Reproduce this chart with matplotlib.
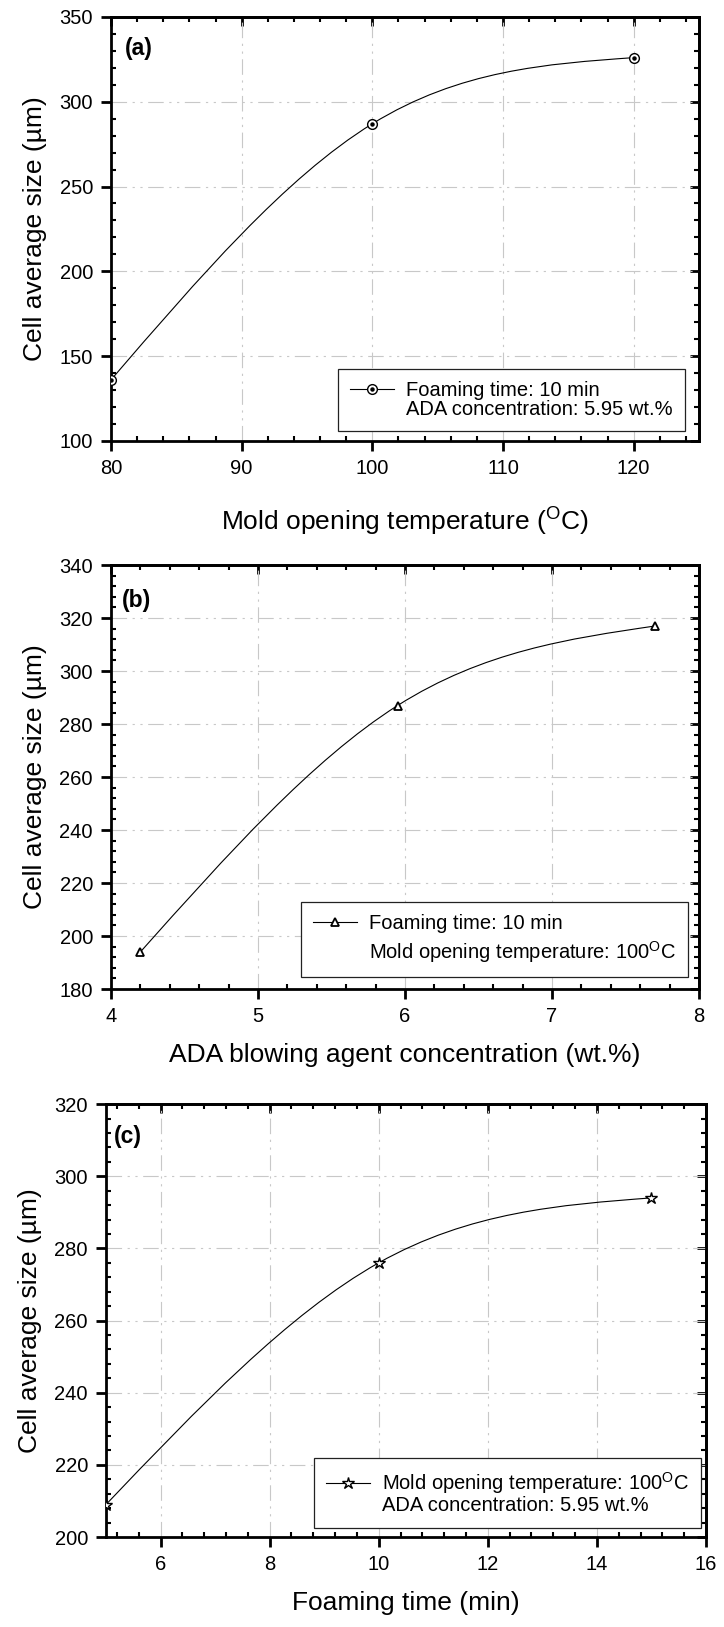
import numpy as np
import matplotlib
matplotlib.use('Agg')
import matplotlib.pyplot as plt
from matplotlib.path import Path
from matplotlib.patches import PathPatch
from matplotlib.lines import Line2D
from matplotlib.legend_handler import HandlerTuple
from matplotlib.ticker import MultipleLocator

plt.rcParams['font.family'] = ['Liberation Sans', 'DejaVu Sans']
plt.rcParams['mathtext.fontset'] = 'custom'
plt.rcParams['mathtext.rm'] = 'Liberation Sans'
plt.rcParams['mathtext.it'] = 'Liberation Sans:italic'
plt.rcParams['mathtext.bf'] = 'Liberation Sans:bold'

# (a) mold opening temperature
temp_c = [80, 100, 120]
size_a = [136, 287, 326]
# (b) ADA concentration
ada_wt = [4.2, 5.95, 7.7]
size_b = [194, 287, 317]
# (c) foaming time
time_min = [5, 10, 15]
size_c = [209, 276, 294]

DEG = r'$^{\mathrm{O}}$C'
YLABEL = 'Cell average size (µm)'
GRID_DASH = (0, (14, 5, 2, 5, 2, 5))


def spline_path(x, y):
    """Natural cubic spline through the points, as bezier segments."""
    x = np.asarray(x, float)
    y = np.asarray(y, float)
    n = len(x)
    h = np.diff(x)
    A = np.zeros((n, n))
    r = np.zeros(n)
    A[0, 0] = A[-1, -1] = 1
    for i in range(1, n - 1):
        A[i, i - 1] = h[i - 1]
        A[i, i] = 2 * (h[i - 1] + h[i])
        A[i, i + 1] = h[i]
        r[i] = 6 * ((y[i + 1] - y[i]) / h[i] - (y[i] - y[i - 1]) / h[i - 1])
    M = np.linalg.solve(A, r)
    verts = [(x[0], y[0])]
    codes = [Path.MOVETO]
    for i in range(n - 1):
        s = (y[i + 1] - y[i]) / h[i]
        d0 = s - h[i] * (2 * M[i] + M[i + 1]) / 6
        d1 = s + h[i] * (M[i] + 2 * M[i + 1]) / 6
        verts += [(x[i] + h[i] / 3, y[i] + h[i] * d0 / 3),
                  (x[i + 1] - h[i] / 3, y[i + 1] - h[i] * d1 / 3),
                  (x[i + 1], y[i + 1])]
        codes += [Path.CURVE4] * 3
    return Path(verts, codes)


def style_axes(ax, xlim, ylim, xmaj, xmin, ymaj, ymin):
    ax.set_xlim(*xlim)
    ax.set_ylim(*ylim)
    ax.xaxis.set_major_locator(MultipleLocator(xmaj))
    ax.xaxis.set_minor_locator(MultipleLocator(xmin))
    ax.yaxis.set_major_locator(MultipleLocator(ymaj))
    ax.yaxis.set_minor_locator(MultipleLocator(ymin))
    for sp in ax.spines.values():
        sp.set_linewidth(2.0)
    ax.tick_params(which='major', direction='out', length=7, width=2,
                   labelsize=14.5, pad=6)
    ax.tick_params(which='minor', direction='in', length=3.5, width=1.5)
    ax.grid(which='major', color='#c8c8c8', lw=0.8, linestyle=GRID_DASH)
    ax.set_axisbelow(True)
    # inward ticks on top and right, no labels
    top = ax.secondary_xaxis('top')
    right = ax.secondary_yaxis('right')
    for sec, axis in ((top, top.xaxis), (right, right.yaxis)):
        axis.set_major_locator(MultipleLocator(xmaj if sec is top else ymaj))
        axis.set_minor_locator(MultipleLocator(xmin if sec is top else ymin))
        sec.tick_params(which='major', direction='in', length=6.5, width=2)
        sec.tick_params(which='minor', direction='in', length=3.5, width=1.5)
        sec.tick_params(labeltop=False, labelright=False)
        for sp in sec.spines.values():
            sp.set_linewidth(2.0)


def draw_series(ax, x, y, marker, ms, mew=1.0, dot=False):
    ax.add_patch(PathPatch(spline_path(x, y), fill=False, lw=0.8,
                           edgecolor='black', zorder=3))
    ax.plot(x, y, linestyle='none', marker=marker, ms=ms, mfc='white',
            mec='black', mew=mew, zorder=4)
    h = Line2D([], [], color='black', lw=0.8, marker=marker, ms=ms,
               mfc='white', mec='black', mew=mew)
    if dot:
        ax.plot(x, y, linestyle='none', marker='o', ms=2.2, color='black',
                zorder=5)
        h = (h, Line2D([], [], linestyle='none', marker='o', ms=2.2,
                       color='black'))
    return h


def add_legend(ax, handle, lines, anchor, spacing):
    blank = Line2D([], [], linestyle='none')
    leg = ax.legend([handle, blank], lines, loc='lower right',
                    bbox_to_anchor=anchor, borderaxespad=0,
                    fontsize=14.5, frameon=True, fancybox=False,
                    framealpha=1, edgecolor='#222222',
                    handlelength=2.2, handletextpad=0.6, borderpad=0.6,
                    labelspacing=spacing,
                    handler_map={tuple: HandlerTuple(ndivide=1)})
    leg.get_frame().set_linewidth(0.9)
    leg.set_zorder(10)


fig = plt.figure(figsize=(7.24, 16.27), dpi=100)

# panel (a)
ax1 = fig.add_axes([0.1533, 0.7290, 0.8122, 0.2606])
style_axes(ax1, (80, 125), (100, 350), 10, 2, 50, 10)
h1 = draw_series(ax1, temp_c, size_a, 'o', 7, dot=True)
ax1.set_xlabel('Mold opening temperature (' + DEG + ')', fontsize=19,
               labelpad=20)
ax1.set_ylabel(YLABEL, fontsize=19, labelpad=9)
ax1.text(0.024, 0.952, '(a)', transform=ax1.transAxes, fontsize=16.5,
         fontweight='bold', va='top')
add_legend(ax1, h1, ['Foaming time: 10 min', 'ADA concentration: 5.95 wt.%'],
           (0.976, 0.024), 0.0)

# panel (b)
ax2 = fig.add_axes([0.1533, 0.3921, 0.8122, 0.2606])
style_axes(ax2, (4, 8), (180, 340), 1, 0.2, 20, 4)
h2 = draw_series(ax2, ada_wt, size_b, '^', 6, mew=1.3)
ax2.set_xlabel('ADA blowing agent concentration (wt.%)', fontsize=19,
               labelpad=12)
ax2.set_ylabel(YLABEL, fontsize=19, labelpad=9)
ax2.text(0.019, 0.943, '(b)', transform=ax2.transAxes, fontsize=16.5,
         fontweight='bold', va='top')
add_legend(ax2, h2, ['Foaming time: 10 min',
                     'Mold opening temperature: 100' + DEG],
           (0.982, 0.028), 0.3)

# panel (c)
ax3 = fig.add_axes([0.1464, 0.0553, 0.8287, 0.2661])
style_axes(ax3, (5, 16), (200, 320), 2, 0.4, 20, 4)
h3 = draw_series(ax3, time_min, size_c, '*', 9)
ax3.set_xlabel('Foaming time (min)', fontsize=19, labelpad=12)
ax3.set_ylabel(YLABEL, fontsize=19, labelpad=9)
ax3.text(0.013, 0.952, '(c)', transform=ax3.transAxes, fontsize=16.5,
         fontweight='bold', va='top')
add_legend(ax3, h3, ['Mold opening temperature: 100' + DEG,
                     'ADA concentration: 5.95 wt.%'],
           (0.992, 0.022), 0.0)

fig.savefig('out.png', dpi=100)
